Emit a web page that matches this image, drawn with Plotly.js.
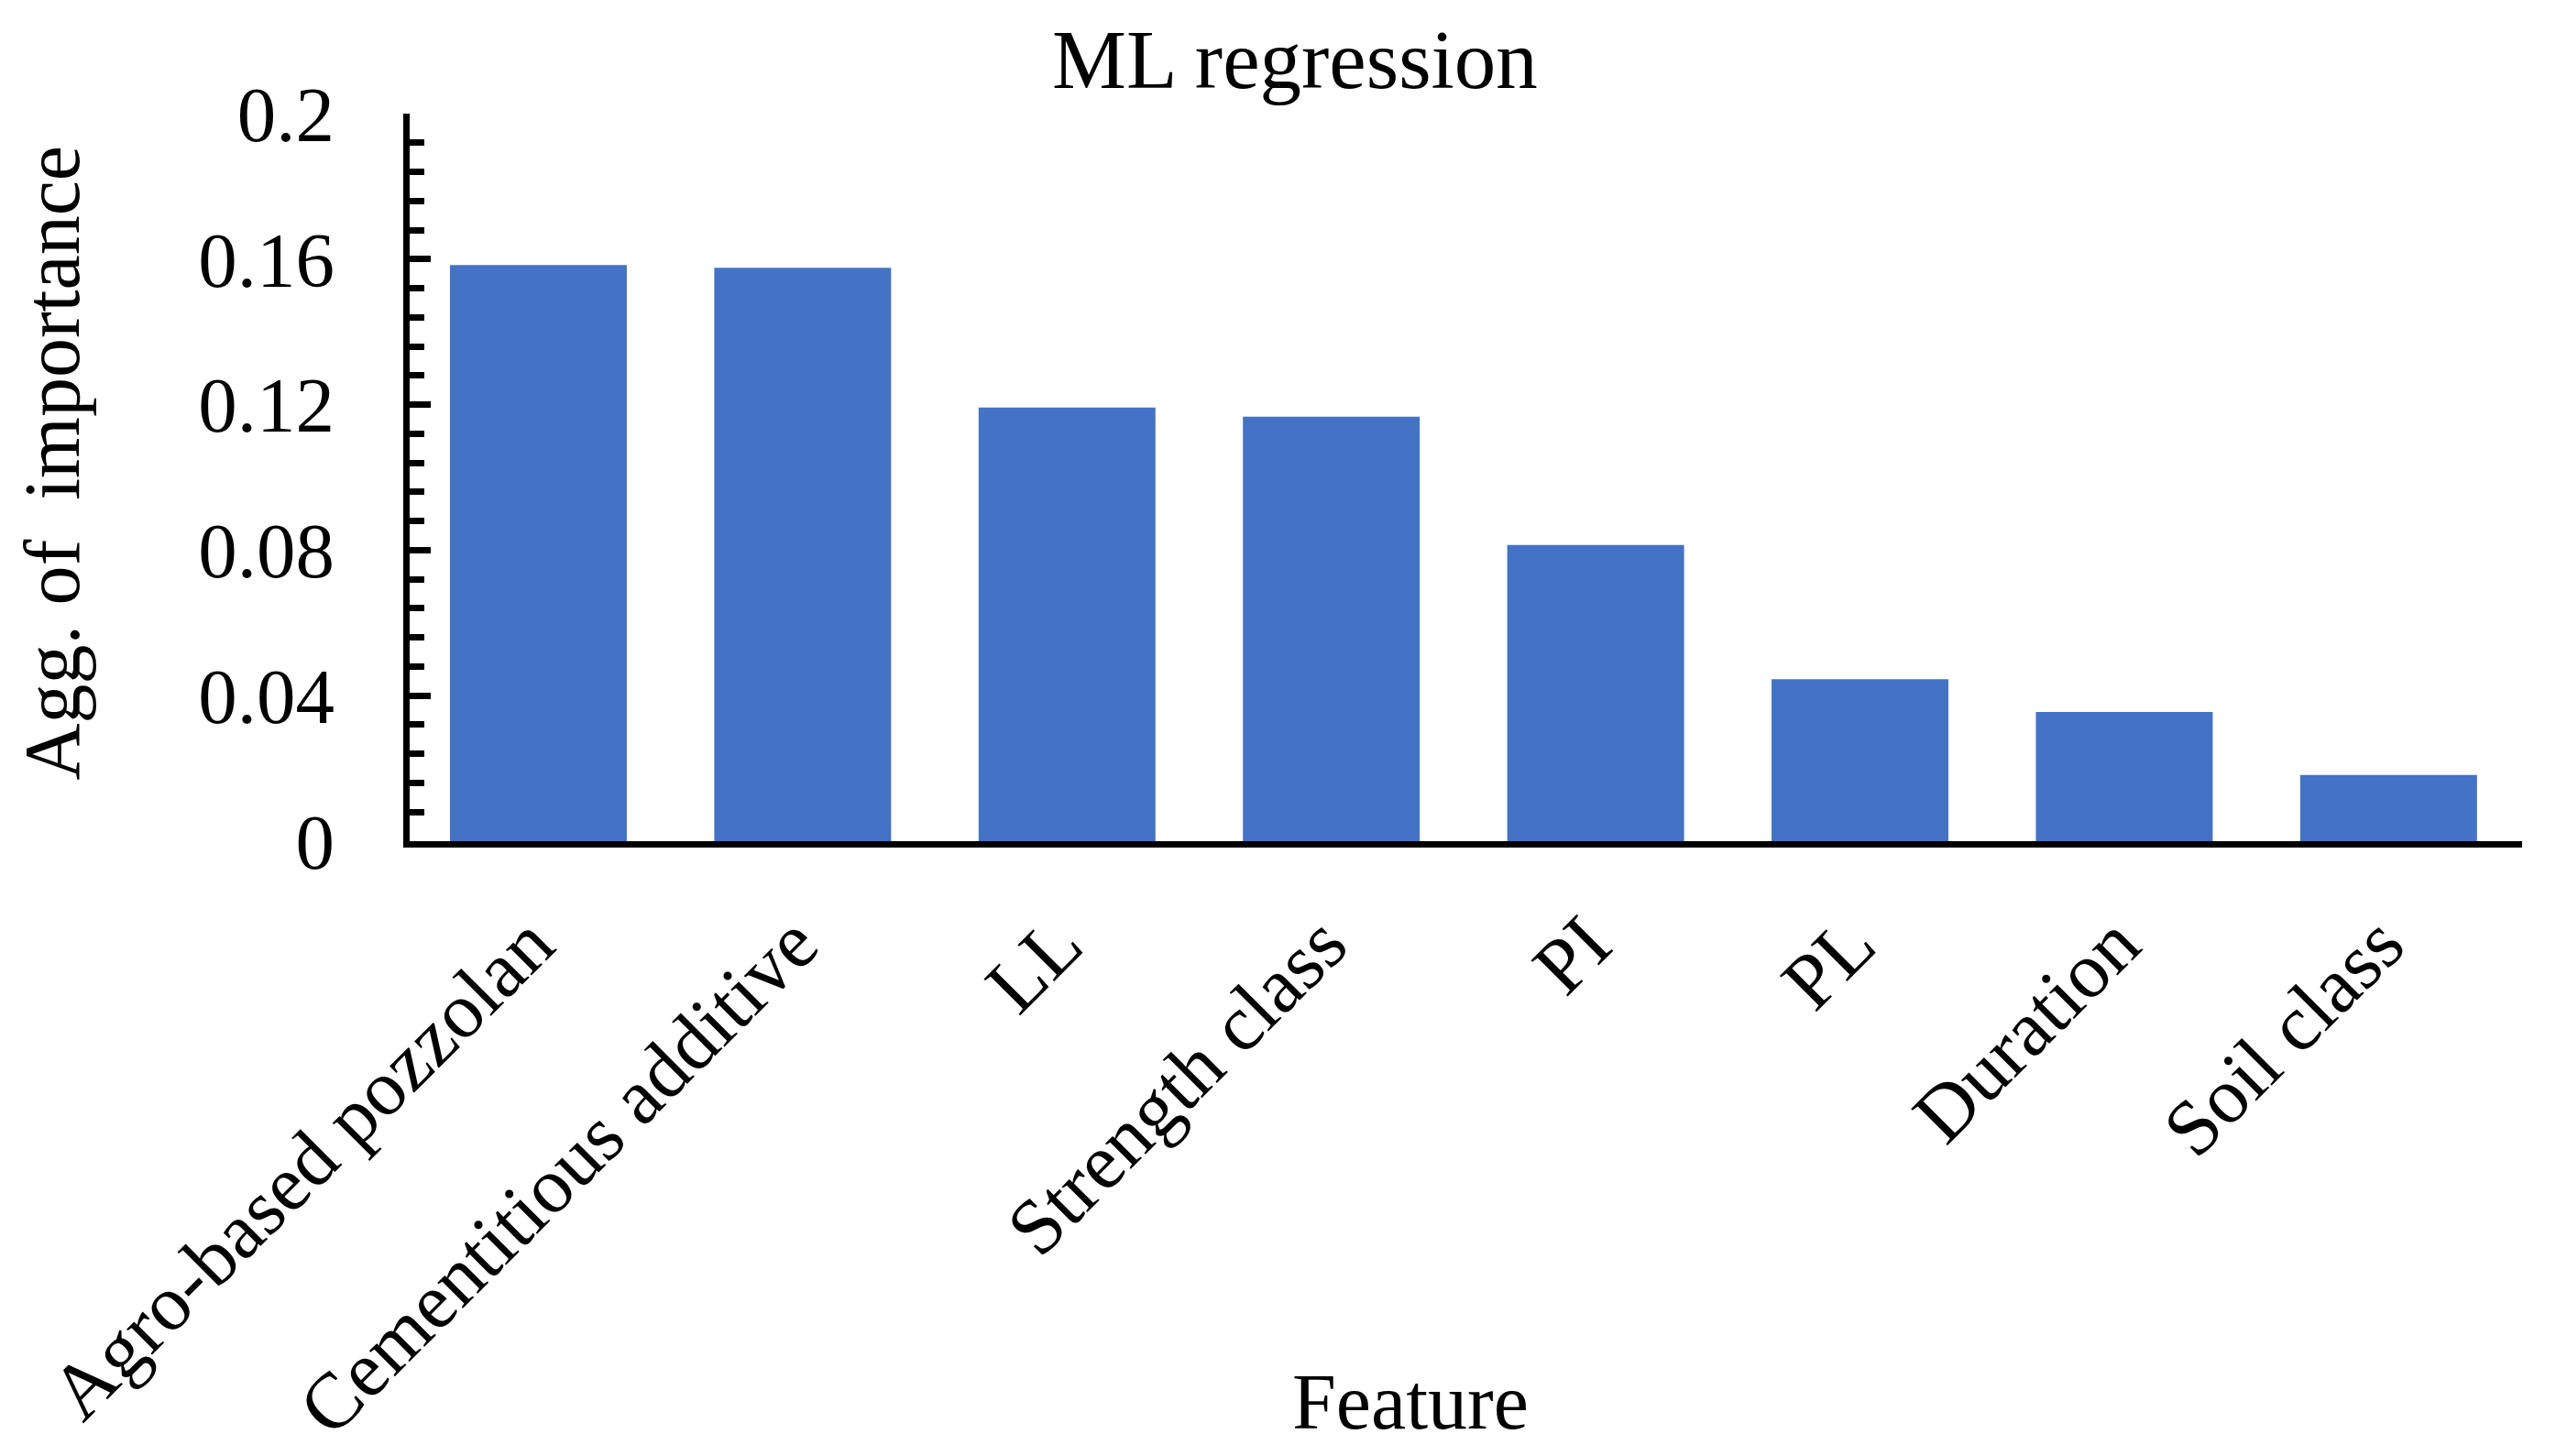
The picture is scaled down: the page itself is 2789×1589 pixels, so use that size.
<!DOCTYPE html>
<html>
<head>
<meta charset="utf-8">
<script src="https://cdn.plot.ly/plotly-3.0.1.min.js"></script>
<style>
html,body{margin:0;padding:0;background:#fff;}
#chart{width:2789px;height:1589px;}
</style>
</head>
<body>
<div id="chart"></div>
<script>
const features = ["Agro-based pozzolan", "Cementitious additive", "LL", "Strength class", "PI", "PL", "Duration", "Soil class"];
const importance = [0.1584, 0.1576, 0.1192, 0.1167, 0.0814, 0.0445, 0.0355, 0.0182];
const yTickVals = [0, 0.04, 0.08, 0.12, 0.16, 0.2];
const yTickText = ["0", "0.04", "0.08", "0.12", "0.16", "0.2"];

const FONT = "Liberation Serif, Times New Roman, serif";

const trace = {
  type: "bar",
  x: features,
  y: importance,
  marker: {color: "#4472C4", line: {width: 0}},
  hoverinfo: "x+y"
};

const layout = {
  width: 2789,
  height: 1589,
  paper_bgcolor: "#ffffff",
  plot_bgcolor: "#ffffff",
  margin: {l: 447, r: 37, t: 124, b: 671, pad: 0},
  bargap: 0.331,
  showlegend: false,
  font: {family: FONT, color: "#000000", size: 86},
  title: {
    text: "ML regression",
    font: {family: FONT, size: 91, color: "#000000"},
    xref: "container", x: 0.5066, xanchor: "center",
    yref: "container", y: 0.9597, yanchor: "middle"
  },
  xaxis: {
    type: "category",
    range: [-0.487, 7.505],
    showline: true, linecolor: "#000000", linewidth: 7,
    ticks: "", showgrid: false, zeroline: false,
    tickangle: -45,
    tickfont: {family: FONT, size: 86, color: "#000000"},
    ticklabelstandoff: 20,
    ticklabelshift: -9
  },
  yaxis: {
    range: [0, 0.2],
    showline: true, linecolor: "#000000", linewidth: 7,
    showgrid: false, zeroline: false,
    tickmode: "array", tickvals: yTickVals, ticktext: yTickText,
    ticks: "inside", ticklen: 23, tickwidth: 7, tickcolor: "#000000",
    tickfont: {family: FONT, size: 85, color: "#000000"},
    ticklabelstandoff: 58,
    minor: {dtick: 0.008, tick0: 0, ticks: "inside", ticklen: 16, tickwidth: 7, tickcolor: "#000000", showgrid: false}
  },
  annotations: [
    {
      text: "Agg. of\u00A0 importance",
      xref: "paper", yref: "paper",
      x: -0.169, y: 0.52, xanchor: "center", yanchor: "middle",
      textangle: -90, showarrow: false,
      font: {family: FONT, size: 86, color: "#000000"}
    },
    {
      text: "Feature",
      xref: "paper", yref: "paper",
      x: 0.4738, y: -0.771, xanchor: "center", yanchor: "middle",
      showarrow: false,
      font: {family: FONT, size: 86, color: "#000000"}
    }
  ]
};

Plotly.newPlot("chart", [trace], layout, {displayModeBar: false, staticPlot: true});
</script>
</body>
</html>
